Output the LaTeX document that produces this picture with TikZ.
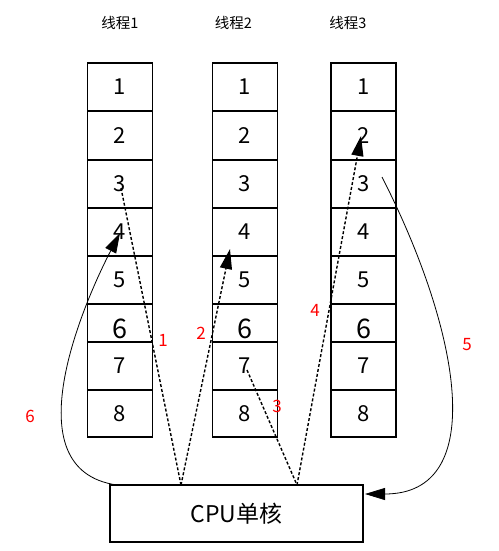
\documentclass[tikz,border=0pt]{standalone}
\usepackage{fontspec}
\setmainfont{Noto Sans CJK SC}
\usetikzlibrary{arrows.meta}
\begin{document}
\begin{tikzpicture}[x=1pt,y=-1pt,
  cell/.style={draw, line width=1.8pt, minimum width=65pt, inner sep=0pt},
  num/.style={font=\fontsize{22}{26}\selectfont, inner sep=0pt},
  bignum/.style={font=\fontsize{27}{31}\selectfont, inner sep=0pt},
  title/.style={font=\fontsize{14.5}{17}\selectfont, inner sep=0pt},
  lab/.style={text=red, font=\fontsize{17}{20}\selectfont, inner sep=0pt},
  dline/.style={line width=1.4pt, dash pattern=on 3pt off 2pt},
  sline/.style={line width=0.8pt},
  arrowhd/.style={-{Triangle[length=20pt,width=12pt]}}
]
\useasboundingbox (0,0) rectangle (498,551);
% titles
\node[title] (ta) at (120,23) {线程1};
\node[title] (tb) at (233.5,23) {线程2};
\node[title] (tc) at (348,23) {线程3};
% cells
\foreach \col/\x in {a/120,b/245,c/363.5} {
  \foreach \r/\y/\h in {1/87/48, 2/135.5/49, 3/184/48, 4/232/48, 5/280/48, 6/323/38, 7/366/48, 8/413.5/47} {
    \node[cell, minimum height=\h pt] (\col\r) at (\x,\y) {};
  }
  \foreach \r in {1,2,3,4,5,7,8} {
    \node[num] at (\col\r) {\r};
  }
  \node[bignum] at ([yshift=-6pt]\col6.center) {6};
}
% CPU
\node[draw, line width=1.4pt, minimum width=253pt, minimum height=57pt, inner sep=0pt,
      font=\fontsize{23}{27}\selectfont] (cpu) at (236.5,513.5) {CPU单核};
% connector ends
\coordinate (p1) at (181,485);
\coordinate (p2) at (297,485);
\coordinate (p6) at (117,485);
\coordinate (s1) at (121,188);
\coordinate (t2) at (230,249);
\coordinate (t6) at (120,233);
\coordinate (s3) at (247,370);
\coordinate (t4) at (361,136);
\coordinate (s5) at (382,177);
\coordinate (t5) at (365,494);
% connectors
\draw[dline] (s1) -- (p1);
\draw[dline, arrowhd] (p1) -- (t2);
\draw[dline] (s3) -- (p2);
\draw[dline, arrowhd] (p2) -- (t4);
\draw[sline, arrowhd] (p6) .. controls (10,470) and (85,300) .. (t6);
\draw[sline, arrowhd] (s5) .. controls (460,330) and (490,494) .. (t5);
% labels
\node[lab] (l1) at (163,340) {1};
\node[lab] (l2) at (201,333) {2};
\node[lab] (l3) at (277,406) {3};
\node[lab] (l4) at (315,310) {4};
\node[lab] (l5) at (467,345) {5};
\node[lab] (l6) at (30,416) {6};
\end{tikzpicture}
\end{document}
